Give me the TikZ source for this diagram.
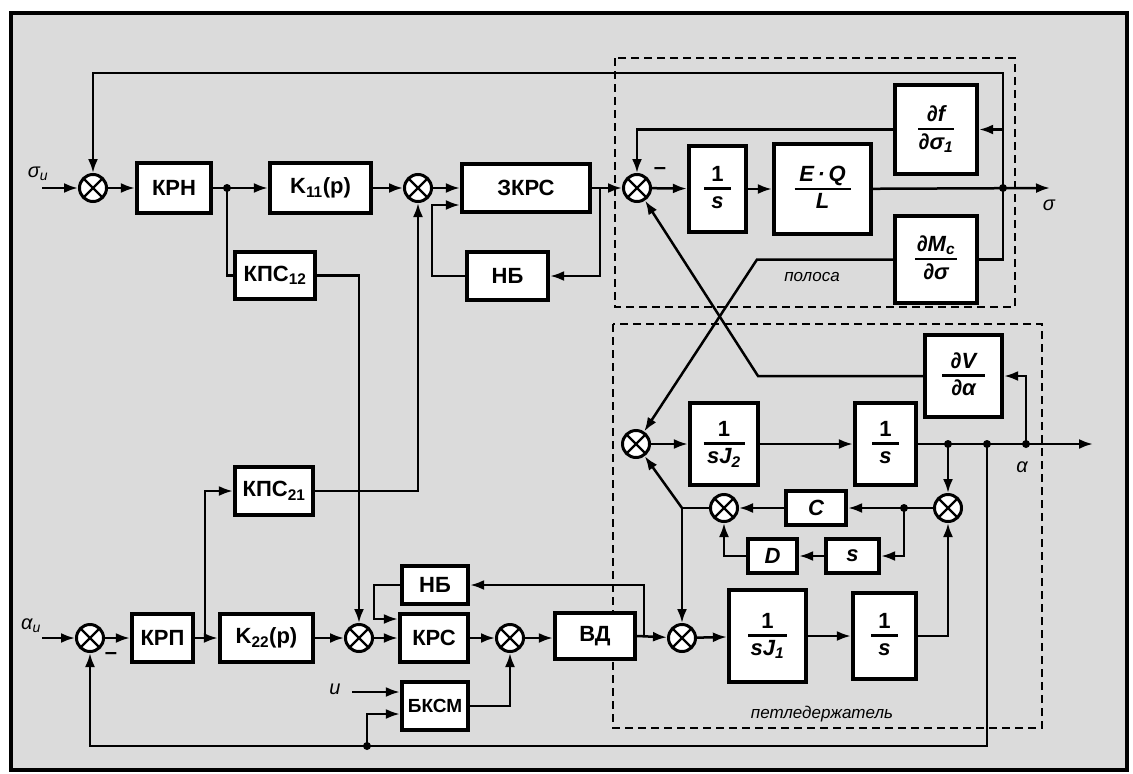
\documentclass[tikz,border=0pt]{standalone}
\usepackage{fontspec}
\setmainfont{Liberation Sans}
\usetikzlibrary{arrows.meta,calc}
\newcommand\frc[3]{\vbox{\offinterlineskip\halign{\hfil##\hfil\cr\rule[-0.18em]{0pt}{0.92em}#2\cr\noalign{\kern2pt}\rule{#1}{2.6pt}\cr\noalign{\kern3pt}\rule[-0.2em]{0pt}{0.9em}#3\cr}}}
\begin{document}
\begin{tikzpicture}[x=1pt,y=-1pt,line width=2.5pt,
  blk/.style={draw, fill=white, line width=3.8pt, inner sep=0pt, font=\fontsize{22}{26}\selectfont\bfseries},
  sm/.style={circle, draw, fill=white, line width=3pt, minimum size=27pt, inner sep=0pt,
    path picture={\draw[line width=2.3pt] (path picture bounding box.north west) -- (path picture bounding box.south east)
      (path picture bounding box.north east) -- (path picture bounding box.south west);}},
  arr/.style={-{Latex[length=14pt,width=10pt]}},
  jdot/.style={circle, fill, inner sep=0pt, minimum size=8pt},
  dsh/.style={line width=2.3pt, dash pattern=on 8pt off 5pt},
  lbl/.style={font=\fontsize{17}{20}\selectfont\itshape},
  sig/.style={font=\fontsize{20}{24}\selectfont\itshape}
]
\useasboundingbox (0,0) rectangle (1133,774);
\fill[white] (0,0) rectangle (1133,774);
\fill[black!14] (11,13) rectangle (1127,770);
\draw[line width=3.5pt] (11,13) rectangle (1127,770);
% dashed groups
\draw[dsh] (615,58) rectangle (1015,307);
\draw[dsh] (613,324) rectangle (1042,728);
\node[lbl] (lpol) at (812,277) {полоса};
\node[lbl] (lpet) at (822,714) {петледержатель};

% ---- top row
\node[sm] (s1) at (93,188) {};
\node[blk, minimum width=74.5pt, minimum height=49.5pt] (krn) at (174,188) {КРН};
\node[blk, minimum width=101.5pt, minimum height=49.5pt] (k11) at (320.5,188) {K\textsubscript{11}(p)};
\node[sm] (s2) at (418,188) {};
\node[blk, minimum width=128.5pt, minimum height=48.5pt] (zkrs) at (526,188) {ЗКРС};
\node[blk, minimum width=81.5pt, minimum height=48.5pt] (nb1) at (507.5,276) {НБ};
\node[blk, minimum width=80.5pt, minimum height=47.5pt] (kps12) at (275,275.5) {КПС\textsubscript{12}};
\node[sm] (sA) at (637,188) {};
\node[blk, minimum width=57.5pt, minimum height=86.5pt] (one1) at (717.5,189) {\frc{27pt}{1}{\itshape s}};
\node[blk, minimum width=97.5pt, minimum height=90.5pt] (eql) at (822.5,189) {\frc{56pt}{\itshape E\,·\,Q}{\itshape L}};
\node[blk, minimum width=82.5pt, minimum height=89.5pt] (dfs) at (936,129.5) {\frc{36pt}{\itshape ∂f}{\itshape ∂σ\textsubscript{1}}};
\node[blk, minimum width=82.5pt, minimum height=87.5pt] (dmc) at (936,259.5) {\frc{42pt}{\itshape ∂M\textsubscript{c}}{\itshape ∂σ}};

% ---- bottom row
\node[sm] (s4) at (90,638) {};
\node[blk, minimum width=61.5pt, minimum height=47.5pt] (krp) at (162.5,638) {КРП};
\node[blk, minimum width=78.5pt, minimum height=48.5pt] (kps21) at (274,491) {КПС\textsubscript{21}};
\node[blk, minimum width=93.5pt, minimum height=48.5pt] (k22) at (266.5,638) {K\textsubscript{22}(p)};
\node[sm] (s5) at (359,638) {};
\node[blk, minimum width=68.5pt, minimum height=47.5pt] (krs) at (434,638) {КРС};
\node[blk, minimum width=66.5pt, minimum height=37.5pt] (nb2) at (435,585) {НБ};
\node[blk, minimum width=66.5pt, minimum height=48.5pt, font=\fontsize{19}{22}\selectfont\bfseries] (bksm) at (435,706) {БКСМ};
\node[sm] (s6) at (510,638) {};
\node[blk, minimum width=80.5pt, minimum height=46.5pt] (vd) at (595,636) {ВД};
\node[sm] (s7) at (682,638) {};
\node[blk, minimum width=77.5pt, minimum height=91.5pt] (oneJ1) at (767.5,636) {\frc{39pt}{1}{\itshape sJ\textsubscript{1}}};
\node[blk, minimum width=63.5pt, minimum height=86.5pt] (oneS1) at (884.5,636) {\frc{27pt}{1}{\itshape s}};

% ---- loop-holder middle
\node[sm] (sB) at (636,444) {};
\node[blk, minimum width=68.5pt, minimum height=81.5pt] (oneJ2) at (724,444) {\frc{41pt}{1}{\itshape sJ\textsubscript{2}}};
\node[blk, minimum width=61.5pt, minimum height=81.5pt] (oneS2) at (885.5,444) {\frc{27pt}{1}{\itshape s}};
\node[blk, minimum width=77.5pt, minimum height=82.5pt] (dva) at (963.5,376) {\frc{43pt}{\itshape ∂V}{\itshape ∂α}};
\node[sm] (s8) at (724,508) {};
\node[blk, minimum width=60.5pt, minimum height=33.5pt] (cbox) at (816,508) {\itshape C};
\node[sm] (s9) at (948,508) {};
\node[blk, minimum width=49.5pt, minimum height=34.5pt] (dbox) at (772.5,556) {\itshape D};
\node[blk, minimum width=53.5pt, minimum height=34.5pt] (sbox) at (852.5,556) {\itshape s};

% ---- coordinates
\coordinate (inS) at (42,188);
\coordinate (inA) at (42,638);
\coordinate (j1) at (227,188);
\coordinate (j2) at (600,188);
\coordinate (jo) at (1003,188);
\coordinate (oS) at (1050,188);
\coordinate (q1) at (432,205);
\coordinate (j3) at (205,638);
\coordinate (j4) at (644,636);
\coordinate (q2) at (374,619);
\coordinate (q3) at (352,692);
\coordinate (q4) at (367,714);
\coordinate (jd) at (367,746);
\coordinate (j5) at (682,508);
\coordinate (j6) at (904,508);
\coordinate (j8) at (948,444);
\coordinate (jb) at (987,444);
\coordinate (j7) at (1026,444);
\coordinate (oA) at (1093,444);
\coordinate (kM) at (757,259.5);
\coordinate (kV) at (758,376);

% ---- labels
\node[sig] (lsu) at (38,174) {σ\textsubscript{u}};
\node[sig] (lau) at (31,626) {α\textsubscript{u}};
\node[sig] (lu) at (335,689) {u};
\node[sig] (lsig) at (1049,205) {σ};
\node[sig] (lal) at (1022,467) {α};
\node[font=\fontsize{22}{26}\selectfont\bfseries] (mA) at (660,171) {–};
\node[font=\fontsize{22}{26}\selectfont\bfseries] (mB) at (111,656) {–};

% ---- top connectors
\draw[arr] (inS) -- (s1);
\draw[arr] (s1) -- (krn);
\draw[arr] (krn) -- (k11);
\draw (j1) |- (kps12.west);
\draw[arr] (k11) -- (s2);
\draw[arr] (s2) -- (zkrs);
\draw[arr] (zkrs) -- (sA);
\draw[arr] (j2) |- (nb1.east);
\draw[arr] (nb1.west) -| (q1) -- (zkrs.west |- q1);
\draw[arr] (kps21.east) -| (s2);
\draw[arr] (kps12.east) -| (s5);
\draw[arr] (dfs.west) -| (sA);
\draw[arr] (sA) -- (one1);
\draw[arr] (one1) -- (eql);
\draw[arr] (eql) -- (oS);
\draw[arr] (jo) |- (dfs.east);
\draw (jo) |- (dmc.east);
\draw[arr] (jo) -- (1003,73) -| (s1);
\draw[arr] (dmc.west) -- (kM) -- (sB);
\draw[arr] (dva.west) -- (kV) -- (sA);

% ---- bottom connectors
\draw[arr] (inA) -- (s4);
\draw[arr] (s4) -- (krp);
\draw[arr] (krp) -- (k22);
\draw[arr] (j3) |- (kps21.west);
\draw[arr] (k22) -- (s5);
\draw[arr] (s5) -- (krs);
\draw[arr] (nb2.west) -| (q2) -- (krs.west |- q2);
\draw[arr] (q3) -- (bksm.west |- q3);
\draw[arr] (jd) -- (q4) -- (bksm.west |- q4);
\draw[arr] (bksm.east) -| (s6);
\draw[arr] (krs) -- (s6);
\draw[arr] (s6.east) -- (s6.east -| vd.west);
\draw[arr] (vd.east) -- (s7);
\draw[arr] (j4) |- (nb2.east);
\draw[arr] (s7) -- (oneJ1);
\draw[arr] (oneJ1) -- (oneS1);
\draw[arr] (oneS1.east) -| (s9);

% ---- loop holder
\draw[arr] (sB) -- (oneJ2);
\draw[arr] (oneJ2) -- (oneS2);
\draw[arr] (oneS2) -- (oA);
\draw[arr] (j8) -- (s9);
\draw[arr] (j7) |- (dva.east);
\draw[arr] (jb) -- (987,746) -| (s4);
\draw[arr] (s9) -- (cbox);
\draw[arr] (j6) |- (sbox.east);
\draw[arr] (sbox) -- (dbox);
\draw[arr] (dbox.west) -| (s8);
\draw[arr] (cbox) -- (s8);
\draw (s8.west) -- (j5);
\draw[arr] (j5) -- (sB);
\draw[arr] (j5) -- (s7);

% ---- junction dots
\foreach \p in {j1,jo,j6,j8,jb,j7,jd} \node[jdot] at (\p) {};
\end{tikzpicture}
\end{document}
